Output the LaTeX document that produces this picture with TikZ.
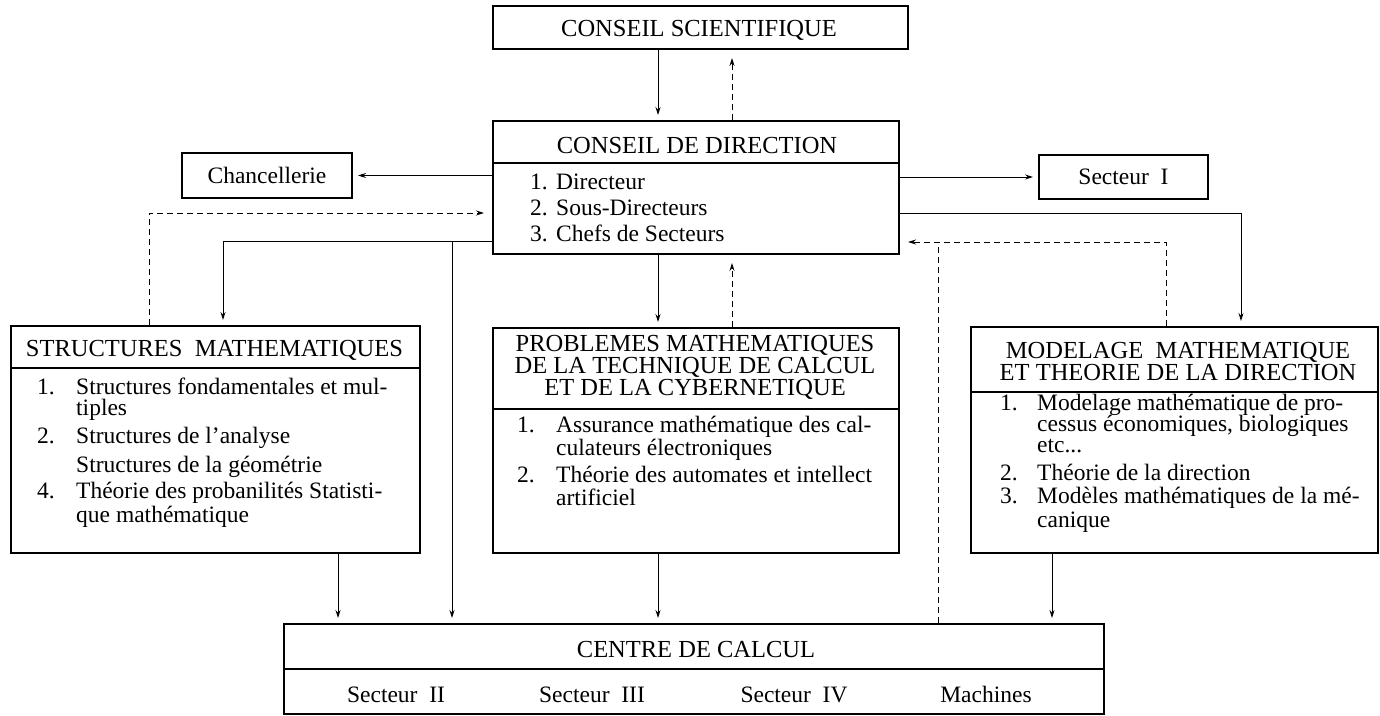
\documentclass[tikz,border=0pt]{standalone}
\usepackage{fontspec}
\setmainfont{Liberation Serif}
\usetikzlibrary{arrows.meta}
\newcommand\ttlfnt{\fontsize{24.5}{29}\selectfont}
\newcommand\itmfnt{\fontsize{23.5}{28}\selectfont}
\begin{document}
\begin{tikzpicture}[x=1pt,y=-1pt,
  box/.style={draw, line width=2pt, inner sep=0pt, anchor=north west},
  sbox/.style={draw, line width=2pt, inner sep=0pt, font=\itmfnt},
  ttl/.style={font=\ttlfnt, inner sep=0pt, anchor=base},
  itm/.style={font=\itmfnt, inner sep=0pt, anchor=base west},
  cen/.style={font=\itmfnt, inner sep=0pt, anchor=base},
  sepl/.style={line width=1.8pt},
  conn/.style={line width=0.9pt},
  arr/.style={conn, -{Stealth[length=8pt,width=5pt]}, shorten >=5pt},
  darr/.style={conn, dash pattern=on 6pt off 4pt, -{Stealth[length=8pt,width=5pt]}, shorten >=8pt},
  dline/.style={conn, dash pattern=on 6pt off 4pt}]
\useasboundingbox (0,0) rectangle (1380,715);

% ---------- boxes ----------
\node[box, minimum width=415pt, minimum height=43pt] (sci) at (492,5) {};
\node[ttl] (scit) at (699,36) {CONSEIL SCIENTIFIQUE};

\node[box, minimum width=406pt, minimum height=133pt] (dir) at (492,120) {};
\node[ttl] (dirt) at (697,153) {CONSEIL DE DIRECTION};
\draw[sepl] (dir.west |- 0,163) -- (dir.east |- 0,163);
\node[itm] (d1n) at (530,189) {1.};
\node[itm] (d1) at (556,189) {Directeur};
\node[itm] (d2n) at (530,215) {2.};
\node[itm] (d2) at (556,215) {Sous-Directeurs};
\node[itm] (d3n) at (530,241) {3.};
\node[itm] (d3) at (556,241) {Chefs de Secteurs};

\node[sbox, minimum width=170pt, minimum height=45pt] (chan) at (267,175.5) {Chancellerie};
\node[sbox, minimum width=169pt, minimum height=44pt] (sec1) at (1123.5,177) {Secteur\ \ I};

\node[box, minimum width=409pt, minimum height=227pt] (struc) at (10,325) {};
\node[ttl] (struct) at (214.5,356) {STRUCTURES\ \ MATHEMATIQUES};
\draw[sepl] (struc.west |- 0,368) -- (struc.east |- 0,368);
\node[itm] (s1n) at (37,394) {1.};
\node[itm] (s1) at (76,394) {Structures fondamentales et mul-};
\node[itm] (s1b) at (76,415) {tiples};
\node[itm] (s2n) at (37,443) {2.};
\node[itm] (s2) at (76,443) {Structures de l’analyse};
\node[itm] (s3) at (76,472) {Structures de la géométrie};
\node[itm] (s4n) at (37,498) {4.};
\node[itm] (s4) at (76,498) {Théorie des probanilités Statisti-};
\node[itm] (s4b) at (76,522) {que mathématique};

\node[box, minimum width=406pt, minimum height=225pt] (prob) at (492,327) {};
\node[ttl] (probt1) at (695,351) {PROBLEMES MATHEMATIQUES};
\node[ttl] (probt2) at (695,373) {DE LA TECHNIQUE DE CALCUL};
\node[ttl] (probt3) at (695,395) {ET DE LA CYBERNETIQUE};
\draw[sepl] (prob.west |- 0,409) -- (prob.east |- 0,409);
\node[itm] (p1n) at (517,432) {1.};
\node[itm] (p1) at (556,432) {Assurance mathématique des cal-};
\node[itm] (p1b) at (556,455) {culateurs électroniques};
\node[itm] (p2n) at (517,482) {2.};
\node[itm] (p2) at (556,482) {Théorie des automates et intellect};
\node[itm] (p2b) at (556,505) {artificiel};

\node[box, minimum width=407pt, minimum height=226pt] (model) at (970,326) {};
\node[ttl] (modt1) at (1178,358) {MODELAGE\ \ MATHEMATIQUE};
\node[ttl] (modt2) at (1178,380) {ET THEORIE DE LA DIRECTION};
\draw[sepl] (model.west |- 0,392) -- (model.east |- 0,392);
\node[itm] (m1n) at (1000,410) {1.};
\node[itm] (m1) at (1037,410) {Modelage mathématique de pro-};
\node[itm] (m1b) at (1037,431) {cessus économiques,\ biologiques};
\node[itm] (m1c) at (1037,452) {etc...};
\node[itm] (m2n) at (1000,480) {2.};
\node[itm] (m2) at (1037,480) {Théorie de la direction};
\node[itm] (m3n) at (1000,503) {3.};
\node[itm] (m3) at (1037,503) {Modèles mathématiques de la mé-};
\node[itm] (m3b) at (1037,527) {canique};

\node[box, minimum width=820pt, minimum height=90pt] (centre) at (283,623) {};
\node[ttl] (centret) at (696,657) {CENTRE DE CALCUL};
\draw[sepl] (centre.west |- 0,669) -- (centre.east |- 0,669);
\node[cen] (c2) at (396,702) {Secteur\ \ II};
\node[cen] (c3) at (592,702) {Secteur\ \ III};
\node[cen] (c4) at (794,702) {Secteur\ \ IV};
\node[cen] (c5) at (986,702) {Machines};

% ---------- helper coordinates ----------
\coordinate (xa) at (658,0);
\coordinate (xb) at (732,0);
\coordinate (dl1) at (149,213);
\coordinate (sl1) at (223,241);
\coordinate (sl2) at (452,241);
\coordinate (rl1) at (1241,213);
\coordinate (rl2) at (1166,242);
\coordinate (rl3) at (938,242);
\coordinate (xs) at (338,0);
\coordinate (xm) at (1052,0);

% ---------- connectors ----------
\draw[arr] (sci.south -| xa) -- (dir.north -| xa);
\draw[darr] (dir.north -| xb) -- (sci.south -| xb);
\draw[arr] (dir.west |- chan.east) -- (chan.east);
\draw[arr] (dir.east |- sec1.west) -- (sec1.west);

\draw[darr] (struc.north -| dl1) -- (dl1) -- (dir.west |- dl1);
\draw[arr] (dir.west |- sl1) -- (sl1) -- (struc.north -| sl1);
\draw[arr] (sl2) -- (centre.north -| sl2);

\draw[arr] (dir.south -| xa) -- (prob.north -| xa);
\draw[darr] (prob.north -| xb) -- (dir.south -| xb);

\draw[arr] (dir.east |- rl1) -- (rl1) -- (model.north -| rl1);
\draw[darr] (model.north -| rl2) -- (rl2) -- (dir.east |- rl2);
\draw[dline] (centre.north -| rl3) -- (rl3);

\draw[arr] (struc.south -| xs) -- (centre.north -| xs);
\draw[arr] (prob.south -| xa) -- (centre.north -| xa);
\draw[arr] (model.south -| xm) -- (centre.north -| xm);
\end{tikzpicture}
\end{document}
